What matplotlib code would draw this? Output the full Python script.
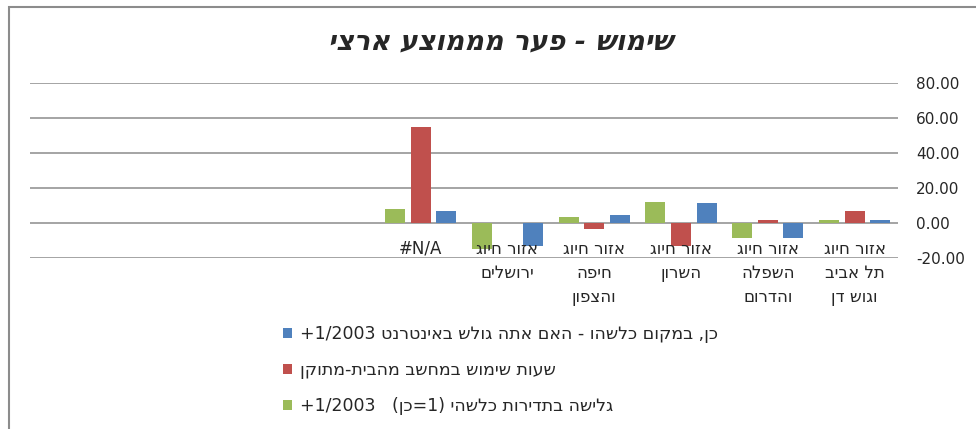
import re
import numpy as np
import matplotlib
matplotlib.use("Agg")
import matplotlib.pyplot as plt
from matplotlib.patches import Rectangle

# --- data (logical Hebrew order, first category is drawn at the right) ---
categories = [
    "אזור חיוג\nתל אביב\nוגוש דן",
    "אזור חיוג\nהשפלה\nוהדרום",
    "אזור חיוג\nהשרון",
    "אזור חיוג\nחיפה\nוהצפון",
    "אזור חיוג\nירושלים",
    "#N/A",
    "", "", "", "",
]
internet_any = [1.9, -8.4, 11.2, 4.3, -13.1, 6.9]
home_hours = [6.9, 1.9, -13.1, -3.7, 0.0, 55.1]
surf_freq = [1.9, -8.4, 11.8, 3.4, -14.6, 7.9]

series_names = [
    "כן, במקום כלשהו - האם אתה גולש באינטרנט 1/2003+",
    "שעות שימוש במחשב מהבית-מתוקן",
    "גלישה בתדירות כלשהי (1=כן)   1/2003+",
]
title = "שימוש - פער מממוצע ארצי"
yticks = [-20, 0, 20, 40, 60, 80]

BLUE = "#4F81BD"
RED = "#C0504D"
GREEN = "#9BBB59"
GRID = "#A6A6A6"
TEXT = "#262626"

FONT = ["DejaVu Sans", "Liberation Sans"]
plt.rcParams["font.family"] = FONT

LTR = r"[0-9A-Za-z/#.]"
MIRROR = str.maketrans("()", ")(")


def visual(s):
    """logical RTL string -> visual order for left-to-right rendering"""
    lines = []
    for line in s.split("\n"):
        runs = re.findall(LTR + r"+|[^0-9A-Za-z/#.]+", line)
        out = []
        for r in reversed(runs):
            if re.match(LTR, r):
                out.append(r)
            else:
                out.append(r[::-1].translate(MIRROR))
        lines.append("".join(out))
    return "\n".join(lines)


W, H = 976, 429
fig = plt.figure(figsize=(W / 100, H / 100), dpi=100)
# 35 px per 20 units so the grid lines land on whole pixels
ax = fig.add_axes([30 / W, 171 / H, 868 / W, 175 / H])

x = np.arange(len(internet_any))
off = 0.294
bw = 0.23
b1 = ax.bar(x - off, internet_any, bw, color=BLUE, zorder=3)
b2 = ax.bar(x, home_hours, bw, color=RED, zorder=3)
b3 = ax.bar(x + off, surf_freq, bw, color=GREEN, zorder=3)

ax.set_xlim(len(categories) - 0.5, -0.5)
ax.set_ylim(-20, 80)
ax.set_yticks(yticks)
ax.set_yticklabels([f"{v:.2f}" for v in yticks])
ax.yaxis.tick_right()
ax.tick_params(axis="y", length=0, pad=13, labelsize=11, labelcolor=TEXT)
ax.set_xticks([])
for sp in ax.spines.values():
    sp.set_visible(False)
ax.grid(axis="y", color=GRID, linewidth=1.44, zorder=1)
ax.set_axisbelow(True)

# category labels just under the zero line
for i, lab in enumerate(categories):
    if not lab:
        continue
    ax.annotate(visual(lab), xy=(i, 0), xytext=(0, -12),
                textcoords="offset points", ha="center", va="top",
                fontsize=12, color=TEXT, linespacing=1.45, zorder=4)

fig.text(500 / W, 1 - 43 / H, visual(title), ha="center", va="center",
         fontsize=19.5, fontweight="bold", fontstyle="italic", color=TEXT)

leg = ax.legend([b1, b2, b3], [visual(s) for s in series_names],
                loc="upper left", bbox_to_anchor=(276 / W, 1 - 318 / H),
                bbox_transform=fig.transFigure, frameon=False,
                fontsize=12.5, handlelength=0.55, handleheight=0.55,
                handletextpad=0.45, labelspacing=1.05, borderaxespad=0)
for t in leg.get_texts():
    t.set_color(TEXT)

# chart frame (runs off the right and bottom edges)
fig.patches.append(Rectangle((9 / W, -0.1), 1.2, 1.1 - 7 / H,
                             transform=fig.transFigure, fill=False,
                             edgecolor="#8C8C8C", linewidth=1.5))

fig.savefig("out.png", dpi=100, facecolor="white")
